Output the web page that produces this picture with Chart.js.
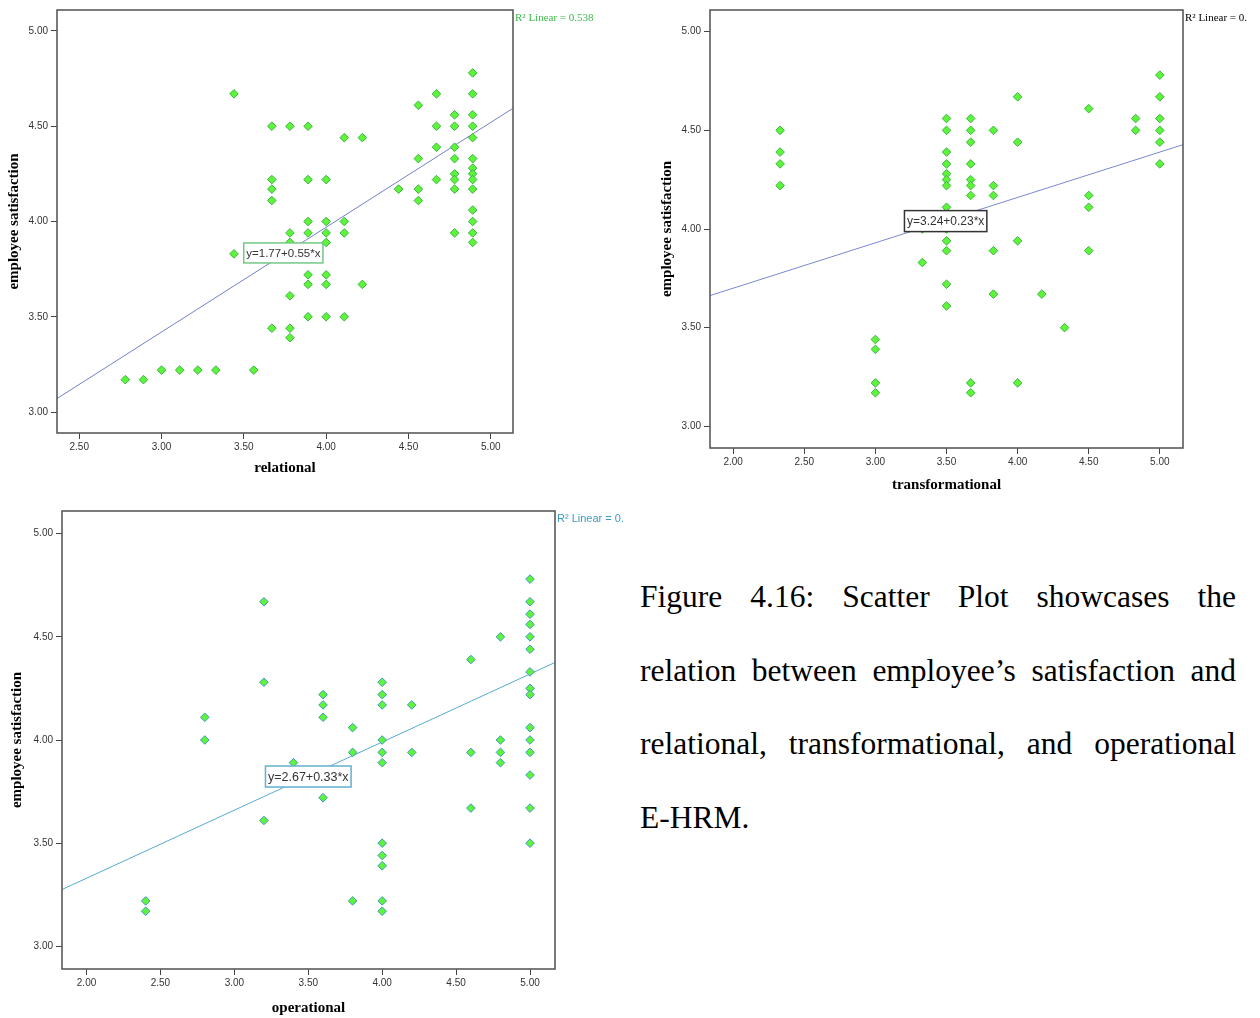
<!DOCTYPE html>
<html>
<head>
<meta charset="utf-8">
<title>E-HRM and employee satisfaction</title>
<script src="https://cdn.jsdelivr.net/npm/chart.js@4.4.1/dist/chart.umd.min.js"></script>
<style>
  body { margin: 0; background: #fff; }
  canvas { position: absolute; }
  #caption {
    position: absolute; left: 640px; top: 560px; width: 596px;
    font-family: "Liberation Serif", "Times New Roman", serif;
    font-size: 31.5px; color: #000;
  }
  #caption div { line-height: 73.5px; height: 73.5px; }
  #caption .j { text-align: justify; text-align-last: justify; }
</style>
</head>
<body>
<canvas id="relChart" width="620" height="490" style="left:0;top:0"></canvas>
<canvas id="traChart" width="610" height="500" style="left:650px;top:0"></canvas>
<canvas id="opChart" width="640" height="518" style="left:0;top:500px"></canvas>
<div id="caption">
  <div class="j">Figure 4.16: Scatter Plot showcases the</div>
  <div class="j">relation between employee’s satisfaction and</div>
  <div class="j">relational, transformational, and operational</div>
  <div>E-HRM.</div>
</div>
<script>
// tick values
const yTicks = [3.00, 3.50, 4.00, 4.50, 5.00]
const relTicks = [2.50, 3.00, 3.50, 4.00, 4.50, 5.00]
const wideTicks = [2.00, 2.50, 3.00, 3.50, 4.00, 4.50, 5.00]

// relational E-HRM vs employee satisfaction
const relX = [3.44, 3.67, 3.78, 3.89, 3.67, 3.67, 3.67, 3.89, 3.89, 3.78, 3.89, 3.78, 3.44, 3.89, 3.89, 3.78, 3.89, 3.67, 3.78, 3.78,
  2.78, 2.89, 3.00, 3.11, 3.22, 3.33, 3.56,
  4.89, 4.67, 4.89, 4.56, 4.78, 4.89, 4.67, 4.78, 4.89, 4.11, 4.22, 4.89, 4.67, 4.78, 4.56, 4.78, 4.89, 4.89, 4.78, 4.89,
  4.00, 4.67, 4.78, 4.89, 4.44, 4.56, 4.78, 4.89, 4.56, 4.89, 4.00, 4.11, 4.89, 4.00, 4.11, 4.78, 4.89, 4.00, 4.89,
  4.00, 4.00, 4.22, 4.00, 4.11]
const relY = [4.67, 4.50, 4.50, 4.50, 4.22, 4.17, 4.11, 4.22, 4.00, 3.94, 3.94, 3.89, 3.83, 3.72, 3.67, 3.61, 3.50, 3.44, 3.44, 3.39,
  3.17, 3.17, 3.22, 3.22, 3.22, 3.22, 3.22,
  4.78, 4.67, 4.67, 4.61, 4.56, 4.56, 4.50, 4.50, 4.50, 4.44, 4.44, 4.44, 4.39, 4.39, 4.33, 4.33, 4.33, 4.28, 4.25, 4.25,
  4.22, 4.22, 4.22, 4.22, 4.17, 4.17, 4.17, 4.17, 4.11, 4.06, 4.00, 4.00, 4.00, 3.94, 3.94, 3.94, 3.94, 3.89, 3.89,
  3.72, 3.67, 3.67, 3.50, 3.50]

// transformational E-HRM vs employee satisfaction
const traX = [2.33, 2.33, 2.33, 2.33, 3.00, 3.00, 3.00, 3.00, 3.33, 3.33,
  3.50, 3.50, 3.50, 3.50, 3.50, 3.50, 3.50, 3.50, 3.50, 3.50, 3.50, 3.50, 3.50,
  3.67, 3.67, 3.67, 3.67, 3.67, 3.67, 3.67, 3.67, 3.67,
  3.83, 3.83, 3.83, 3.83, 3.83, 4.00, 4.00, 4.00, 4.00, 4.17, 4.33,
  4.50, 4.50, 4.50, 4.50, 4.83, 4.83, 5.00, 5.00, 5.00, 5.00, 5.00, 5.00]
const traY = [4.50, 4.39, 4.33, 4.22, 3.44, 3.39, 3.22, 3.17, 4.00, 3.83,
  4.56, 4.50, 4.39, 4.33, 4.28, 4.25, 4.22, 4.11, 4.00, 3.94, 3.89, 3.72, 3.61,
  4.56, 4.50, 4.44, 4.33, 4.25, 4.22, 4.17, 3.22, 3.17,
  4.50, 4.22, 4.17, 3.89, 3.67, 4.67, 4.44, 3.94, 3.22, 3.67, 3.50,
  4.61, 4.17, 4.11, 3.89, 4.56, 4.50, 4.78, 4.67, 4.56, 4.50, 4.44, 4.33]

// operational E-HRM vs employee satisfaction
const opX = [2.4, 2.4, 2.8, 2.8, 3.2, 3.2, 3.2, 3.4, 3.6, 3.6, 3.6, 3.6, 3.8, 3.8, 3.8,
  4.0, 4.0, 4.0, 4.0, 4.0, 4.0, 4.0, 4.0, 4.0, 4.0, 4.0, 4.2, 4.2, 4.6, 4.6, 4.6, 4.8, 4.8, 4.8, 4.8,
  5.0, 5.0, 5.0, 5.0, 5.0, 5.0, 5.0, 5.0, 5.0, 5.0, 5.0, 5.0, 5.0, 5.0, 5.0]
const opY = [3.22, 3.17, 4.11, 4.00, 4.67, 4.28, 3.61, 3.89, 4.22, 4.17, 4.11, 3.72, 4.06, 3.94, 3.22,
  4.28, 4.22, 4.17, 4.00, 3.94, 3.89, 3.50, 3.44, 3.39, 3.22, 3.17, 4.17, 3.94, 4.39, 3.94, 3.67, 4.50, 4.00, 3.94, 3.89,
  4.78, 4.67, 4.61, 4.56, 4.50, 4.44, 4.33, 4.25, 4.22, 4.06, 4.00, 3.94, 3.83, 3.67, 3.50]

// fitted lines: y = a + b*x
const fitA = [1.77, 3.24, 2.67]
const fitB = [0.55, 0.23, 0.33]
const r2Labels = ['R² Linear = 0.538', 'R² Linear = 0.', 'R² Linear = 0.']

function pairs(xs, ys) {
  return xs.map((x, i) => ({ x: x, y: ys[i] }))
}

// frame round the plot area, equation box, R² note
const decor = {
  id: 'decor',
  afterDatasetsDraw(chart, args, o) {
    const { ctx, scales: { x, y } } = chart
    ctx.save()
    ctx.font = o.eqFont
    const w = ctx.measureText(o.eqText).width + 5
    const h = o.eqH
    const cx = x.getPixelForValue(o.eqAt[0])
    const cy = y.getPixelForValue(o.eqAt[1])
    ctx.fillStyle = '#fff'
    ctx.fillRect(cx - w / 2, cy - h / 2, w, h)
    ctx.strokeStyle = o.eqBorder
    ctx.lineWidth = 1.5
    ctx.strokeRect(cx - w / 2, cy - h / 2, w, h)
    ctx.fillStyle = '#333'
    ctx.textAlign = 'center'
    ctx.textBaseline = 'middle'
    ctx.fillText(o.eqText, cx, cy + 1)
    ctx.restore()
  },
  afterDraw(chart, args, o) {
    const { ctx, chartArea: a } = chart
    ctx.save()
    ctx.strokeStyle = '#5a5a5a'
    ctx.lineWidth = 1.6
    ctx.strokeRect(a.left, a.top, a.right - a.left, a.bottom - a.top)
    ctx.font = o.r2Font
    ctx.fillStyle = o.r2Color
    ctx.textAlign = 'left'
    ctx.textBaseline = 'middle'
    ctx.fillText(o.r2Text, a.right + 2, a.top + 8)
    ctx.restore()
  }
}

const tickFont = { family: '"Liberation Sans", Arial, sans-serif', size: 10 }
const titleFont = { family: '"Liberation Serif", "Times New Roman", serif', size: 15, weight: 'bold' }

function makeChart(id, k, points, s) {
  const a = fitA[k], b = fitB[k]
  new Chart(document.getElementById(id), {
    type: 'scatter',
    data: {
      datasets: [{
        data: points,
        pointStyle: 'rectRot',
        pointRadius: 4.3,
        pointBorderWidth: 1,
        backgroundColor: '#5ef43a',
        borderColor: s.markEdge
      }, {
        type: 'line',
        data: [{ x: s.xMin, y: a + b * s.xMin }, { x: s.xMax, y: a + b * s.xMax }],
        borderColor: s.lineColor,
        borderWidth: 1,
        pointRadius: 0,
        fill: false
      }]
    },
    options: {
      responsive: false,
      animation: false,
      events: [],
      layout: { padding: { left: 0, top: s.top, right: s.right, bottom: 0 } },
      plugins: {
        legend: { display: false },
        tooltip: { enabled: false },
        decor: {
          eqText: 'y=' + a.toFixed(2) + '+' + b.toFixed(2) + '*x',
          eqAt: s.eqAt,
          eqFont: s.eqSize + 'px "Liberation Sans", Arial, sans-serif',
          eqH: s.eqH,
          eqBorder: s.eqBorder,
          r2Text: r2Labels[k],
          r2Font: s.r2Font,
          r2Color: s.r2Color
        }
      },
      scales: {
        x: {
          type: 'linear',
          min: s.xMin,
          max: s.xMax,
          afterBuildTicks: ax => { ax.ticks = s.xTicks.map(v => ({ value: v })) },
          afterFit: ax => { ax.height = s.xh },
          border: { display: false },
          grid: { drawOnChartArea: false, drawTicks: true, tickLength: 6, color: '#444' },
          ticks: { font: tickFont, color: '#333', padding: 2, maxRotation: 0, callback: v => v.toFixed(2) },
          title: { display: true, text: s.xTitle, font: titleFont, color: '#000', padding: { top: 0, bottom: s.xtPad } }
        },
        y: {
          type: 'linear',
          min: 2.89,
          max: 5.11,
          afterBuildTicks: ax => { ax.ticks = yTicks.map(v => ({ value: v })) },
          afterFit: ax => { ax.width = s.yw },
          border: { display: false },
          grid: { drawOnChartArea: false, drawTicks: true, tickLength: 6, color: '#444' },
          ticks: { font: tickFont, color: '#333', padding: 3, callback: v => v.toFixed(2) },
          title: { display: true, text: 'employee satisfaction', font: titleFont, color: '#000', padding: { top: s.ytPad, bottom: 0 } }
        }
      }
    },
    plugins: [decor]
  })
}

makeChart('relChart', 0, pairs(relX, relY), {
  xMin: 2.365, xMax: 5.135, xTicks: relTicks, xTitle: 'relational',
  top: 10, right: 107, yw: 57, xh: 57, ytPad: 5, xtPad: 13,
  markEdge: '#3cb444', lineColor: '#7480c8',
  eqAt: [3.74, 3.835], eqSize: 11.5, eqH: 20, eqBorder: '#74c884',
  r2Font: '11px "Liberation Serif", "Times New Roman", serif', r2Color: '#3cba4a'
})

makeChart('traChart', 1, pairs(traX, traY), {
  xMin: 1.837, xMax: 5.163, xTicks: wideTicks, xTitle: 'transformational',
  top: 10, right: 77, yw: 60, xh: 52, ytPad: 8, xtPad: 6,
  markEdge: '#3cb444', lineColor: '#7c88d0',
  eqAt: [3.494, 4.04], eqSize: 12, eqH: 21, eqBorder: '#333',
  r2Font: '11px "Liberation Serif", "Times New Roman", serif', r2Color: '#000'
})

makeChart('opChart', 2, pairs(opX, opY), {
  xMin: 1.834, xMax: 5.169, xTicks: wideTicks, xTitle: 'operational',
  top: 11, right: 85, yw: 62, xh: 49, ytPad: 8, xtPad: 1,
  markEdge: '#3f98c4', lineColor: '#56aacf',
  eqAt: [3.50, 3.823], eqSize: 12.5, eqH: 21, eqBorder: '#62b0cf',
  r2Font: '11px "Liberation Sans", Arial, sans-serif', r2Color: '#3a9cc4'
})
</script>
</body>
</html>
